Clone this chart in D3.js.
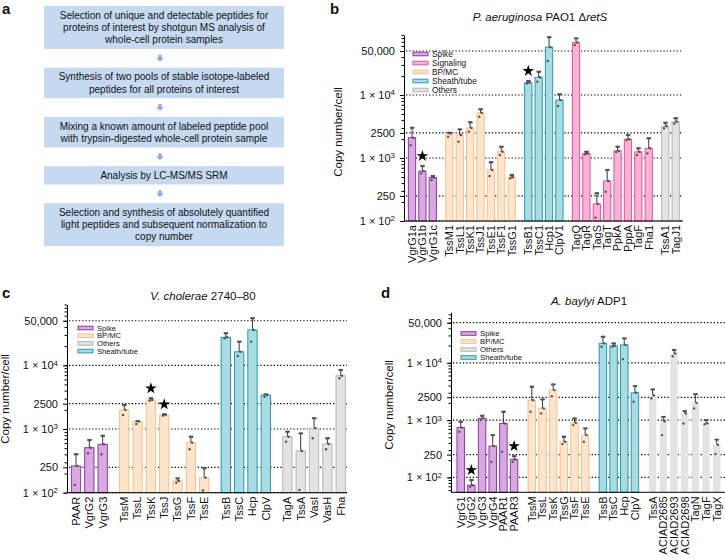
<!DOCTYPE html>
<html>
<head>
<meta charset="utf-8">
<script src="https://cdn.jsdelivr.net/npm/d3@7"></script>
<style>
body { margin: 0; background: #fff; }
text { font-family: "Liberation Sans", Arial, sans-serif; fill: #111; }
</style>
</head>
<body>
<script>
// ---- panel a: workflow steps ----
var flowSteps = [
  ["Selection of unique and detectable peptides for", "proteins of interest by shotgun MS analysis of", "whole-cell protein samples"],
  ["Synthesis of two pools of stable isotope-labeled", "peptides for all proteins of interest"],
  ["Mixing a known amount of labeled peptide pool", "with trypsin-digested whole-cell protein sample"],
  ["Analysis by LC-MS/MS SRM"],
  ["Selection and synthesis of absolutely quantified", "light peptides and subsequent normalization to", "copy number"]
];

// ---- shared ----
var yTickVals = [100, 250, 1000, 2500, 10000, 50000];

// ---- panel b: P. aeruginosa ----
var bNames = ["VgrG1a","VgrG1b","VgrG1c","TssM1","TssL1","TssK1","TssJ1","TssE1","TssF1","TssG1","TssB1","TssC1","Hcp1","ClpV1","TagQ","TagR","TagS","TagT","PpkA","PppA","TagF","Fha1","TssA1","TagJ1"];
var bGroups = ["Spike","Spike","Spike","BP/MC","BP/MC","BP/MC","BP/MC","BP/MC","BP/MC","BP/MC","Sheath/tube","Sheath/tube","Sheath/tube","Sheath/tube","Signaling","Signaling","Signaling","Signaling","Signaling","Signaling","Signaling","Signaling","Others","Others"];
var bMean = [2100, 620, 490, 2450, 2320, 3000, 5200, 645, 1260, 495, 15700, 19100, 57500, 8300, 68000, 1180, 186, 432, 1300, 1980, 1250, 1425, 3200, 3770];
var bHigh = [3020, 746, 518, 2520, 2850, 3690, 5930, 855, 1513, 538, 16700, 23400, 82400, 10260, 79400, 1260, 275, 645, 1513, 2320, 1425, 2055, 3630, 4270];
var bLow  = [1600, 571, 448, 2180, 1815, 2610, 4530, 518, 1117, 476, 15300, 16300, 34700, 6680, 62200, 1145, 113, 292, 1250, 1930, 1117, 1186, 2960, 3530];
var bStars = ["VgrG1b", "TssB1"];
var bLegend = ["Spike","Signaling","BP/MC","Sheath/tube","Others"];

// ---- panel c: V. cholerae ----
var cNames = ["PAAR","VgrG2","VgrG3","TssM","TssL","TssK","TssJ","TssG","TssF","TssE","TssB","TssC","Hcp","ClpV","TagA","TssA","VasI","VasH","Fha"];
var cGroups = ["Spike","Spike","Spike","BP/MC","BP/MC","BP/MC","BP/MC","BP/MC","BP/MC","BP/MC","Sheath/tube","Sheath/tube","Sheath/tube","Sheath/tube","Others","Others","Others","Others","Others"];
var cMean = [262, 508, 575, 1990, 1310, 2850, 1660, 153, 610, 172, 27500, 16300, 35800, 3420, 757, 452, 1025, 582, 6870];
var cHigh = [401, 671, 785, 2380, 1330, 3030, 1700, 168, 757, 242, 31800, 23500, 54700, 3500, 908, 855, 1472, 714, 8430];
var cLow  = [132, 416, 401, 1660, 1197, 2770, 1620, 143, 480, 108, 26500, 14000, 23500, 3200, 632, 110, 714, 480, 6250];
var cStars = ["TssK", "TssJ"];
var cLegend = ["Spike","BP/MC","Others","Sheath/tube"];

// ---- panel d: A. baylyi ----
var dNames = ["VgrG1","VgrG2","VgrG3","VgrG4","PAAR1","PAAR3","TssM","TssL","TssK","TssG","TssF","TssE","TssB","TssC","Hcp","ClpV","TssA","ACIAD2685","ACIAD2693","ACIAD2698","TagN","TagF","TagX"];
var dGroups = ["Spike","Spike","Spike","Spike","Spike","Spike","BP/MC","BP/MC","BP/MC","BP/MC","BP/MC","BP/MC","Sheath/tube","Sheath/tube","Sheath/tube","Sheath/tube","Others","Others","Others","Others","Others","Others","Others"];
var dMean = [740, 73, 1070, 352, 875, 206, 2230, 1600, 3340, 418, 897, 547, 21800, 19800, 20500, 3000, 2700, 950, 14500, 1300, 2000, 880, 370];
var dHigh = [934, 90, 1190, 547, 1400, 235, 3810, 2300, 4200, 512, 1070, 716, 28400, 21800, 26700, 3920, 3430, 1140, 16700, 1435, 2840, 1000, 457];
var dLow  = [625, 69, 1000, 187, 280, 187, 1400, 1310, 2620, 381, 818, 418, 19000, 19000, 11600, 2085, 2400, 547, 13000, 870, 1600, 850, 255];
var dStars = ["VgrG2", "PAAR3"];
var dLegend = ["Spike","BP/MC","Others","Sheath/tube"];

var fillCol = {"Spike":"#d8a8e2", "Signaling":"#f8b2d6", "BP/MC":"#fde4cb", "Sheath/tube":"#a8dce5", "Others":"#e3e3e3"};
var strokeCol = {"Spike":"#8c3aa0", "Signaling":"#e2529c", "BP/MC":"#f3c08e", "Sheath/tube":"#2b99ab", "Others":"#b5b5b5"};

var W = 725, H = 560;
var svg = d3.select("body").append("svg").attr("width", W).attr("height", H);

// panel letters
svg.selectAll("text.letter")
  .data([["a",2,14],["b",330,14],["c",2,298],["d",381,298]])
  .join("text")
  .attr("x", function(d){ return d[1]; })
  .attr("y", function(d){ return d[2]; })
  .attr("font-size", 15).attr("font-weight", "bold")
  .text(function(d){ return d[0]; });

// ---- draw panel a ----
var lineH = 12.3, boxGap = 18.7;
var boxTop = 6;
var fa = svg.append("g");
flowSteps.forEach(function(lines, k) {
  var h = lines.length * lineH + 6;
  fa.append("rect").attr("x", 44).attr("y", boxTop).attr("width", 240).attr("height", h)
    .attr("fill", "#c5d9f0");
  lines.forEach(function(t, j) {
    fa.append("text").attr("x", 164).attr("y", boxTop + 3 + lineH/2 + j*lineH)
      .attr("dy", "0.35em").attr("text-anchor", "middle").attr("font-size", 10)
      .attr("fill", "#222").text(t);
  });
  if (k < flowSteps.length - 1) {
    var cy = boxTop + h + boxGap/2, cx = 160;
    fa.append("path")
      .attr("d", "M" + (cx-1.6) + "," + (cy-3.5) + "H" + (cx+1.6) + "V" + (cy-0.5) + "H" + (cx+3.8) +
        "L" + cx + "," + (cy+3.5) + "L" + (cx-3.8) + "," + (cy-0.5) + "H" + (cx-1.6) + "Z")
      .attr("fill", "#8eaadc");
  }
  boxTop += h + boxGap;
});

function fmtTick(sel) {
  sel.each(function(d) {
    var t = d3.select(this);
    t.text(null);
    if (d === 50000) t.text("50,000");
    else if (d === 100 || d === 1000 || d === 10000) {
      t.text("1 \u00d7 10");
      t.append("tspan").attr("dy", "-0.45em").attr("font-size", "0.72em").text(Math.round(Math.log10(d)));
    } else t.text(d);
  });
}

function drawPanel(p) {
  var g = svg.append("g");
  var slots = [], s = 0;
  p.names.forEach(function(n, i) {
    if (i > 0) { s += 1; if (p.groups[i] !== p.groups[i-1]) s += p.gap; }
    slots.push(s);
  });
  var x = d3.scaleLinear().domain([0, s]).range([p.x0, p.x1]);
  var bw = (p.x1 - p.x0) / s * 0.7;
  var y = d3.scaleLog().domain(p.yDomain).range(p.yRange);
  var yb = p.yRange[0];

  // dotted grid
  g.selectAll("line.grid").data(yTickVals).join("line")
    .attr("x1", p.axisX + 2).attr("x2", p.gridRight)
    .attr("y1", function(d){ return y(d); }).attr("y2", function(d){ return y(d); })
    .attr("stroke", "#000").attr("stroke-width", 1.2).attr("stroke-dasharray", "1.3,2");

  var rows = p.names.map(function(n, i) {
    return {name: n, grp: p.groups[i], m: p.mean[i], hi: p.high[i], lo: p.low[i], cx: x(slots[i])};
  });

  // bars
  g.selectAll("rect.bar").data(rows).join("rect")
    .attr("x", function(d){ return d.cx - bw/2; })
    .attr("y", function(d){ return y(d.m); })
    .attr("width", bw)
    .attr("height", function(d){ return yb - y(d.m); })
    .attr("fill", function(d){ return fillCol[d.grp]; })
    .attr("stroke", function(d){ return (p.noStroke || []).indexOf(d.grp) >= 0 ? "none" : strokeCol[d.grp]; })
    .attr("stroke-width", 1);

  // error bars
  g.selectAll("line.err").data(rows).join("line")
    .attr("x1", function(d){ return d.cx; }).attr("x2", function(d){ return d.cx; })
    .attr("y1", function(d){ return y(d.m); }).attr("y2", function(d){ return y(d.hi); })
    .attr("stroke", "#222").attr("stroke-width", 0.9);
  g.selectAll("line.cap").data(rows).join("line")
    .attr("x1", function(d){ return d.cx - 2.2; }).attr("x2", function(d){ return d.cx + 2.2; })
    .attr("y1", function(d){ return y(d.hi); }).attr("y2", function(d){ return y(d.hi); })
    .attr("stroke", "#222").attr("stroke-width", 0.9);

  // replicate points
  var pts = [];
  rows.forEach(function(d) {
    pts.push([d.cx - 1.3, d.lo], [d.cx + 1.3, d.m], [d.cx - 0.8, d.hi], [d.cx + 1.2, d.hi]);
  });
  g.selectAll("circle.pt").data(pts).join("circle")
    .attr("cx", function(d){ return d[0]; }).attr("cy", function(d){ return y(d[1]); })
    .attr("r", 1.2).attr("fill", "#555");

  // stars
  g.selectAll("path.star").data(rows.filter(function(d){ return p.stars.indexOf(d.name) >= 0; })).join("path")
    .attr("d", d3.symbol().type(d3.symbolStar).size(42))
    .attr("transform", function(d){ return "translate(" + d.cx + "," + (y(d.hi) - 10) + ")"; })
    .attr("fill", "#000");

  // y axis: minor ticks + labelled ticks
  var minor = y.ticks().filter(function(v){ return v >= p.yDomain[0] && v <= p.yDomain[1]; });
  g.append("g").attr("transform", "translate(" + p.axisX + ",0)")
    .call(d3.axisLeft(y).tickValues(minor).tickSize(2.5).tickSizeOuter(0).tickFormat(""));
  var ax2 = g.append("g").attr("transform", "translate(" + p.axisX + ",0)")
    .call(d3.axisLeft(y).tickValues(yTickVals).tickSize(4).tickPadding(5));
  ax2.select(".domain").remove();
  ax2.selectAll(".tick text").attr("font-size", 11).attr("font-family", null).call(fmtTick);
  g.selectAll(".domain, .tick line").attr("stroke", "#000");

  // x axis baseline
  g.append("line").attr("x1", p.axisX).attr("x2", p.gridRight).attr("y1", yb).attr("y2", yb)
    .attr("stroke", "#000").attr("stroke-width", 1);

  // category labels
  g.selectAll("text.xl").data(rows).join("text")
    .attr("transform", function(d){ return "translate(" + d.cx + "," + (yb + 4) + ") rotate(-90)"; })
    .attr("text-anchor", "end").attr("dy", "0.35em").attr("font-size", p.xFont)
    .text(function(d){ return d.name; });

  // title
  var tt = g.append("text").attr("x", p.titleX).attr("y", p.titleY)
    .attr("text-anchor", "middle").attr("font-size", 11.5);
  p.title.forEach(function(part) {
    tt.append("tspan").attr("font-style", part[1] ? "italic" : "normal").text(part[0]);
  });

  // y label
  g.append("text")
    .attr("transform", "translate(" + p.ylabX + "," + p.ylabY + ") rotate(-90)")
    .attr("text-anchor", "middle").attr("font-size", 11.5).text("Copy number/cell");

  // legend
  var lg = g.selectAll("g.leg").data(p.legend).join("g")
    .attr("transform", function(d, i){ return "translate(" + p.legX + "," + (p.legY + i*p.legStep) + ")"; });
  lg.append("rect").attr("x", 0).attr("y", -1.8).attr("width", 15).attr("height", 3.6)
    .attr("fill", function(d){ return fillCol[d]; })
    .attr("stroke", function(d){ return strokeCol[d]; }).attr("stroke-width", 1);
  lg.append("text").attr("x", 19).attr("dy", "0.35em").attr("font-size", p.legFont).text(function(d){ return d; });
}

drawPanel({
  names: bNames, groups: bGroups, mean: bMean, high: bHigh, low: bLow, stars: bStars, legend: bLegend,
  gap: 0.6, x0: 412, x1: 675.7, axisX: 404, gridRight: 683,
  yDomain: [100, 90000], yRange: [221, 34.9], xFont: 11,
  title: [["P. aeruginosa", true], [" PAO1 \u0394", false], ["retS", true]], titleX: 540, titleY: 21,
  ylabX: 342, ylabY: 132, legX: 413, legY: 54, legStep: 9, legFont: 8.3
});

drawPanel({
  names: cNames, groups: cGroups, mean: cMean, high: cHigh, low: cLow, stars: cStars, legend: cLegend,
  gap: 0.62, x0: 76, x1: 340.7, axisX: 67, gridRight: 347,
  yDomain: [100, 90000], yRange: [492.7, 304.5], xFont: 11,
  title: [["V. cholerae", true], [" 2740\u201380", false]], titleX: 203, titleY: 300,
  ylabX: 9, ylabY: 399, legX: 78, legY: 328, legStep: 7.7, legFont: 7.6
});

drawPanel({
  names: dNames, groups: dGroups, mean: dMean, high: dHigh, low: dLow, stars: dStars, legend: dLegend,
  gap: 0.66, x0: 460.7, x1: 716.7, axisX: 451, gridRight: 725, noStroke: ["Others"],
  yDomain: [55, 76000], yRange: [492.3, 312.3], xFont: 11,
  title: [["A. baylyi", true], [" ADP1", false]], titleX: 589, titleY: 305,
  ylabX: 393, ylabY: 405, legX: 461, legY: 333.5, legStep: 8, legFont: 7.8
});
</script>
</body>
</html>
